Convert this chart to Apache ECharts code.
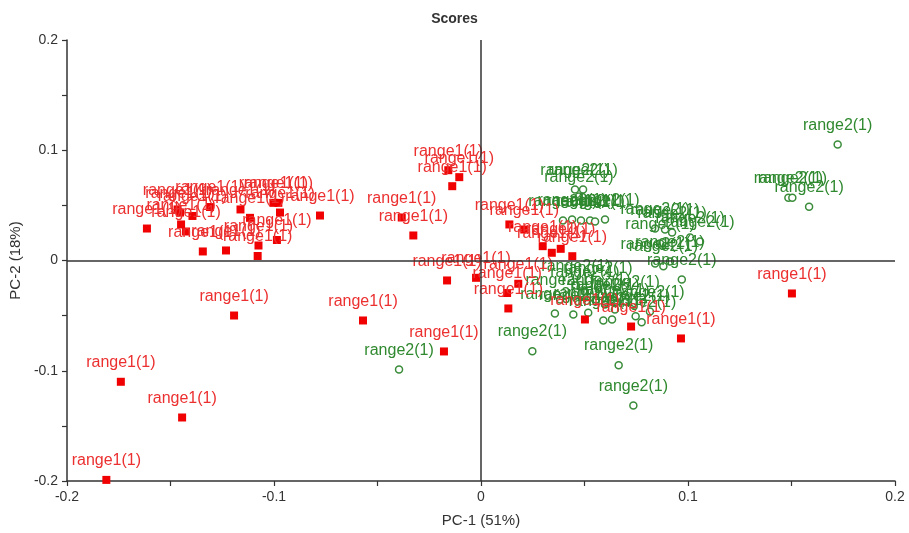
<!DOCTYPE html>
<html>
<head>
<meta charset="utf-8">
<script src="https://cdn.jsdelivr.net/npm/echarts@6/dist/echarts.min.js"></script>
<style>html,body{margin:0;padding:0;background:#fff}#c{width:909px;height:533px}</style>
</head>
<body>
<div id="c"></div>
<script>
const title = "Scores";
const xName = "PC-1 (51%)";
const yName = "PC-2 (18%)";
const range1Label = "range1(1)";
const range2Label = "range2(1)";

const range1X = [-0.181,-0.174,-0.1444,-0.1193,-0.057,-0.0179,0.0966,0.1502,0.0725,0.0502,
  -0.1614,-0.1466,-0.1454,-0.1394,-0.1449,-0.1425,-0.1309,-0.1344,-0.1232,-0.1162,
  -0.1116,-0.1075,-0.1079,-0.1003,-0.0979,-0.0971,-0.0986,-0.0778,
  -0.0158,-0.0105,-0.0139,-0.0383,-0.0327,
  -0.0164,-0.0024,0.0126,0.0132,0.018,0.0137,0.0209,0.0298,0.0342,0.0385,0.0441];
const range1Y = [-0.199,-0.110,-0.1424,-0.0499,-0.0544,-0.0825,-0.0707,-0.0299,-0.0599,-0.0535,
  0.029,0.0463,0.0435,0.0404,0.0327,0.0263,0.0485,0.0082,0.0091,0.0463,
  0.0387,0.0136,0.0041,0.0523,0.0523,0.0435,0.0186,0.0408,
  0.0819,0.0756,0.0674,0.039,0.0227,
  -0.0181,-0.0157,-0.0295,-0.0435,-0.0211,0.0327,0.0281,0.013,0.007,0.0106,0.0039];

const range2X = [0.1723,0.1485,0.1504,0.1585,-0.0396,0.0248,0.0665,0.0736,0.0446,0.0518,
  0.0591,0.0747,0.0776,0.097,0.0881,0.0454,0.0493,0.0473,0.0396,0.044,
  0.0483,0.0527,0.0551,0.0599,0.0841,0.0889,0.0923,0.101,0.1058,0.0865,
  0.0841,0.0913,0.0459,0.0502,0.0556,0.0599,0.0382,0.0647,0.0696,0.0816,0.0357,0.0633,0.0565];
const range2Y = [0.1052,0.0569,0.0569,0.0487,-0.0989,-0.0823,-0.095,-0.1315,-0.049,-0.0474,
  -0.0544,-0.0505,-0.056,-0.0172,-0.0052,0.0644,0.0644,0.058,0.0363,0.0372,
  0.0363,0.0363,0.0354,0.0372,0.029,0.0281,0.0254,0.0209,0.0172,0.0154,
  -0.0027,-0.0009,-0.0227,-0.0281,-0.0354,-0.0399,-0.0354,-0.0444,-0.0372,-0.0463,-0.0481,-0.0535,-0.0245];

const xTicks = [-0.2,-0.1,0,0.1,0.2];
const yTicks = [-0.2,-0.1,0,0.1,0.2];

const red = '#f00000', redText = '#ec3030';
const green = '#3a8c3a', greenText = '#2f892f';
const axisColor = '#333';
const narrow = '"Liberation Sans Narrow","Liberation Sans",Arial,sans-serif';
const sans = '"Liberation Sans",Arial,sans-serif';

const fmt = v => (v === 0 ? '0' : String(Math.round(v * 10) / 10));

const chart = echarts.init(document.getElementById('c'), null, {renderer: 'canvas'});
chart.setOption({
  animation: false,
  backgroundColor: '#fff',
  title: {
    text: title, left: 'center', top: 7,
    textStyle: {fontFamily: narrow, fontSize: 14, fontWeight: 'bold', color: '#333'}
  },
  grid: {left: 67, right: 14, top: 40, bottom: 52, containLabel: false},
  xAxis: {
    type: 'value', min: xTicks[0], max: xTicks[xTicks.length - 1], interval: 0.1,
    name: xName, nameLocation: 'middle', nameGap: 32,
    nameTextStyle: {fontFamily: sans, fontSize: 15, color: '#333'},
    axisLine: {onZero: false, lineStyle: {color: axisColor, width: 1.5}},
    axisTick: {show: true, length: 5, lineStyle: {color: axisColor, width: 1.2}},
    minorTick: {show: true, splitNumber: 2, length: 5, lineStyle: {color: axisColor, width: 1.2}},
    splitLine: {show: false},
    axisLabel: {fontFamily: narrow, fontSize: 14, color: '#333', margin: 9, formatter: fmt, showMinLabel: true, showMaxLabel: true}
  },
  yAxis: {
    type: 'value', min: yTicks[0], max: yTicks[yTicks.length - 1], interval: 0.1,
    name: yName, nameLocation: 'middle', nameGap: 40,
    nameTextStyle: {fontFamily: sans, fontSize: 15, color: '#333'},
    axisLine: {show: true, onZero: false, lineStyle: {color: axisColor, width: 1.5}},
    axisTick: {show: true, length: 5, lineStyle: {color: axisColor, width: 1.2}},
    minorTick: {show: true, splitNumber: 2, length: 5, lineStyle: {color: axisColor, width: 1.2}},
    splitLine: {show: false},
    axisLabel: {fontFamily: narrow, fontSize: 14, color: '#333', margin: 9, formatter: fmt, showMinLabel: true, showMaxLabel: true}
  },
  series: [
    {
      name: 'range2', type: 'scatter',
      data: range2X.map((x, i) => [x, range2Y[i]]),
      symbol: 'circle', symbolSize: 7,
      itemStyle: {color: '#fff', borderColor: green, borderWidth: 1.5, opacity: 1},
      label: {show: true, position: 'top', distance: 7, formatter: range2Label,
        fontFamily: sans, fontSize: 16, color: greenText},
      z: 3
    },
    {
      name: 'range1', type: 'scatter',
      data: range1X.map((x, i) => [x, range1Y[i]]),
      symbol: 'rect', symbolSize: 8,
      itemStyle: {color: red, opacity: 1},
      label: {show: true, position: 'top', distance: 7, formatter: range1Label,
        fontFamily: sans, fontSize: 16, color: redText},
      markLine: {
        silent: true, symbol: 'none', animation: false,
        label: {show: false},
        lineStyle: {color: axisColor, width: 1.5, type: 'solid'},
        data: [{xAxis: 0}, {yAxis: 0}]
      },
      z: 4
    }
  ]
});
</script>
</body>
</html>
